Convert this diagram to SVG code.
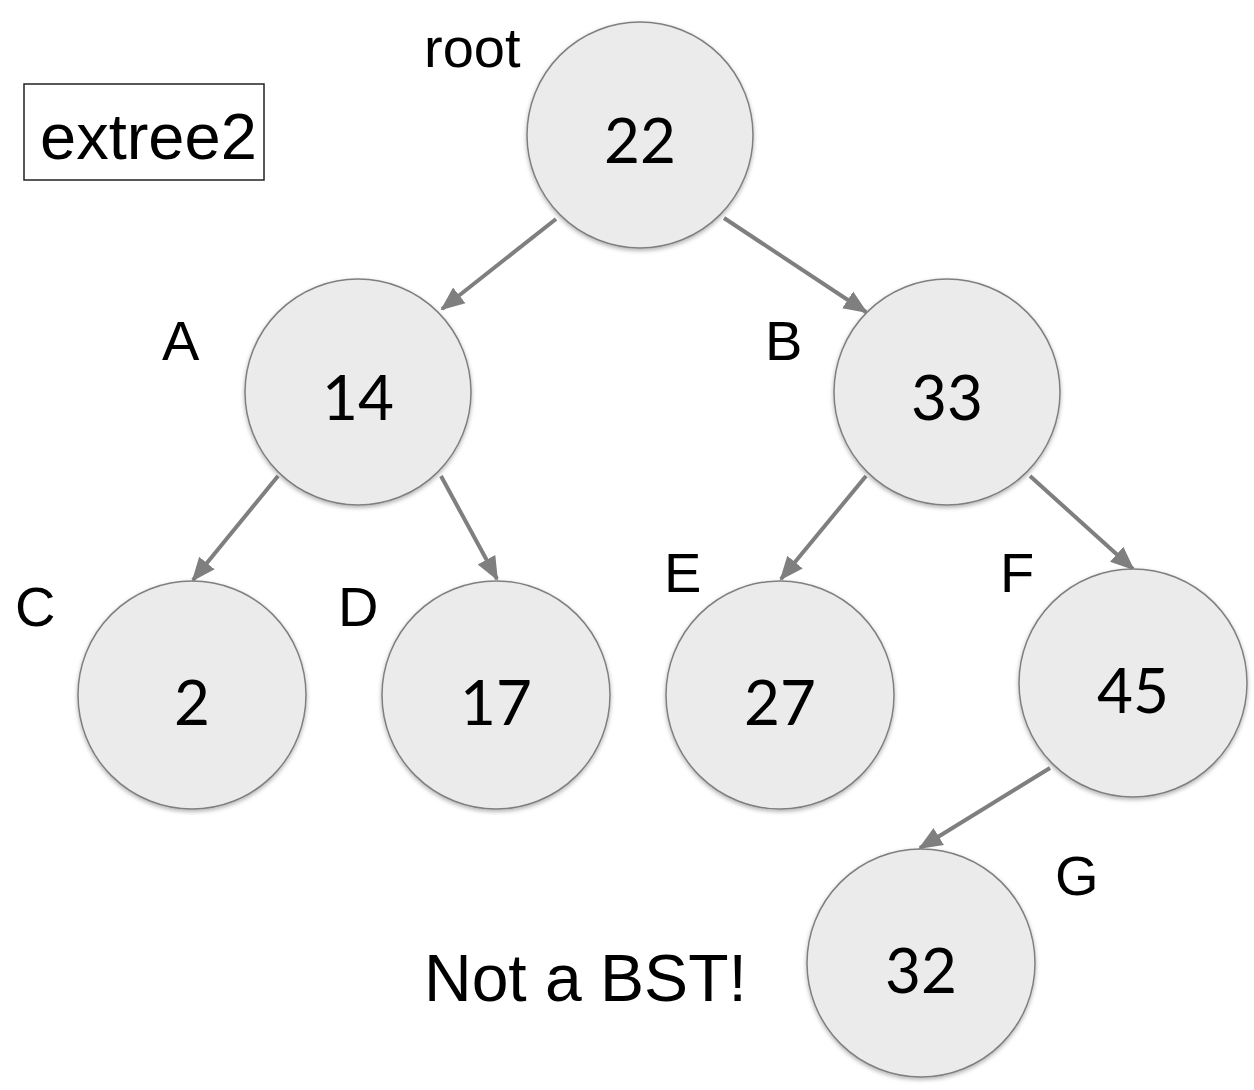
<svg xmlns="http://www.w3.org/2000/svg" width="1254" height="1090" viewBox="0 0 1254 1090">
<style>
.node circle{fill:#ebebeb;stroke:#7f7f7f;stroke-width:1.5;filter:url(#sh)}
.num{font-family:Lato,"Open Sans",sans-serif;font-size:62px;fill:#000;text-anchor:middle}
.lbl{font-family:"Liberation Sans",Arial,sans-serif;font-size:56px;fill:#000}
.edge{stroke:#7f7f7f;stroke-width:4;fill:none;marker-end:url(#ah)}
</style>
<defs>
<filter id="sh" x="-20%" y="-20%" width="140%" height="140%">
<feDropShadow dx="0" dy="2" stdDeviation="2" flood-color="#000" flood-opacity="0.3"/>
</filter>
<marker id="ah" markerUnits="userSpaceOnUse" markerWidth="24" markerHeight="24" viewBox="0 0 24 24" refX="22" refY="12" orient="auto">
<path d="M0,2 L24,12 L0,22 Z" fill="#7f7f7f"/>
</marker>
</defs>
<rect width="1254" height="1090" fill="#fff"/>
<g id="connectors">
<line class="edge" x1="556" y1="219" x2="442" y2="309"/>
<line class="edge" x1="724" y1="218" x2="866" y2="312"/>
<line class="edge" x1="278" y1="476" x2="193" y2="580"/>
<line class="edge" x1="441" y1="476" x2="497" y2="579"/>
<line class="edge" x1="866" y1="476" x2="781" y2="579"/>
<line class="edge" x1="1030" y1="476" x2="1133" y2="569"/>
<line class="edge" x1="1050" y1="768" x2="920" y2="848"/>
</g>
<g id="title">
<rect x="24" y="84" width="240" height="96" fill="#fff" stroke="#222" stroke-width="1.5"/>
<text x="40" y="159" font-family="Liberation Sans,Arial,sans-serif" font-size="65" fill="#000">extree2</text>
</g>
<g id="node-root" class="node"><circle cx="640" cy="135" r="113"/><text class="num" x="640" y="163">22</text><text class="lbl" x="424" y="67">root</text></g>
<g id="node-A" class="node"><circle cx="358" cy="392" r="113"/><text class="num" x="358" y="420">14</text><text class="lbl" x="162" y="360">A</text></g>
<g id="node-B" class="node"><circle cx="947" cy="392" r="113"/><text class="num" x="947" y="420">33</text><text class="lbl" x="765" y="360">B</text></g>
<g id="node-C" class="node"><circle cx="192" cy="695" r="114"/><text class="num" x="192" y="725">2</text><text class="lbl" x="15" y="626">C</text></g>
<g id="node-D" class="node"><circle cx="496" cy="695" r="114"/><text class="num" x="496" y="725">17</text><text class="lbl" x="338" y="626">D</text></g>
<g id="node-E" class="node"><circle cx="780" cy="695" r="114"/><text class="num" x="780" y="725">27</text><text class="lbl" x="664" y="592">E</text></g>
<g id="node-F" class="node"><circle cx="1133" cy="683" r="114"/><text class="num" x="1133" y="713">45</text><text class="lbl" x="1000" y="592">F</text></g>
<g id="node-G" class="node"><circle cx="921" cy="963" r="114"/><text class="num" x="921" y="993">32</text><text class="lbl" x="1055" y="895">G</text></g>
<text x="424" y="1001" font-family="Liberation Sans,Arial,sans-serif" font-size="66" fill="#000">Not a BST!</text>
</svg>
